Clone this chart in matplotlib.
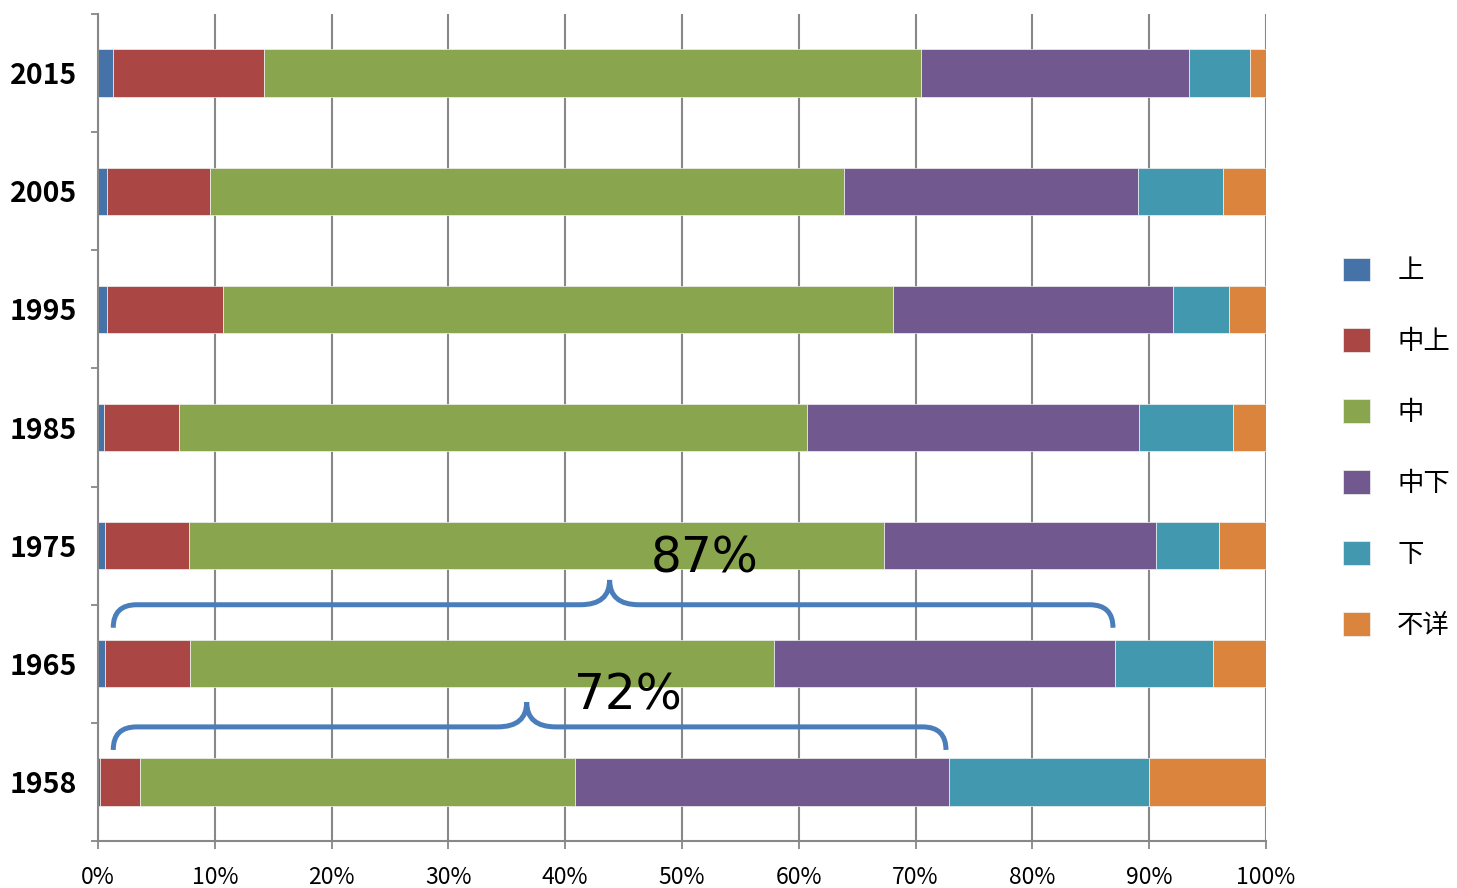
import numpy as np
import matplotlib.pyplot as plt
from matplotlib.path import Path
from matplotlib.patches import PathPatch

plt.rcParams['font.family'] = ['Noto Sans CJK JP', 'DejaVu Sans']

years = ['1958', '1965', '1975', '1985', '1995', '2005', '2015']
labels = ['上', '中上', '中', '中下', '下', '不详']
colors = ['#4572a7', '#aa4643', '#89a54e', '#71588f', '#4198af', '#db843d']

# share (%) per year, in the order of labels
upper = [0.2, 0.6, 0.6, 0.5, 0.8, 0.8, 1.3]
mid_upper = [3.4, 7.3, 7.2, 6.4, 9.9, 8.8, 12.9]
middle = [37.2, 50.0, 59.5, 53.8, 57.4, 54.3, 56.3]
mid_lower = [32.1, 29.2, 23.3, 28.4, 23.9, 25.1, 22.9]
lower = [17.1, 8.4, 5.4, 8.1, 4.8, 7.3, 5.2]
unknown = [10.0, 4.5, 4.0, 2.8, 3.2, 3.7, 1.4]

series = [upper, mid_upper, middle, mid_lower, lower, unknown]

# braces: (left %, right %, tip %, line y, text, text x, text y)
braces = [(1.3, 86.9, 43.8, 1.5, '87%', 51.9, 1.77),
          (1.3, 72.6, 36.7, 0.466, '72%', 45.4, 0.61)]

fig = plt.figure(figsize=(14.57, 8.88), dpi=100)
ax = fig.add_axes([0.0673, 0.0529, 0.8016, 0.9313])

y = np.arange(len(years))
left = np.zeros(len(years))
for vals, lab, c in zip(series, labels, colors):
    vals = np.array(vals)
    ax.barh(y, vals, left=left, height=0.4, color=c, label=lab,
            edgecolor='#f2f2f2', linewidth=0.5, zorder=2)
    left += vals

ax.set_xlim(0, 100)
ax.set_ylim(-0.5, 6.5)

ax.set_xticks(np.arange(0, 101, 10))
ax.set_xticklabels([f'{v}%' for v in range(0, 101, 10)], fontsize=16.5)
ax.set_yticks(np.arange(-0.5, 6.6, 1))
ax.set_yticklabels([])
ax.set_yticks(y, minor=True)
ax.set_yticklabels(years, minor=True, fontsize=20.5, fontweight='bold')
ax.tick_params(axis='y', which='minor', length=0, pad=15)
ax.tick_params(axis='y', which='major', length=5, color='#888888', width=1.3)
ax.tick_params(axis='x', length=6, color='#888888', width=1.3, pad=12)

ax.grid(axis='x', color='#888888', linewidth=1.5, zorder=0)
ax.set_axisbelow(True)
for s in ['top', 'right']:
    ax.spines[s].set_visible(False)
for s in ['left', 'bottom']:
    ax.spines[s].set_color('#888888')
    ax.spines[s].set_linewidth(1.5)

# curly braces
for x0, x1, xm, yl, txt, tx, ty in braces:
    r = 2.0
    rm = 2.5
    ye = yl - 0.195
    yp = yl + 0.21
    verts = [(x0, ye), (x0, yl), (x0 + r, yl),
             (xm - rm, yl), (xm, yl), (xm, yp),
             (xm, yl), (xm + rm, yl),
             (x1 - r, yl), (x1, yl), (x1, ye)]
    codes = [Path.MOVETO, Path.CURVE3, Path.CURVE3,
             Path.LINETO, Path.CURVE3, Path.CURVE3,
             Path.CURVE3, Path.CURVE3,
             Path.LINETO, Path.CURVE3, Path.CURVE3]
    ax.add_patch(PathPatch(Path(verts, codes), fill=False, edgecolor='#4a7ebb',
                           linewidth=3.6, capstyle='butt', zorder=3))
    ax.text(tx, ty, txt, fontsize=35, family='DejaVu Sans',
            ha='center', va='baseline', zorder=4)

ax.legend(loc='center left', bbox_to_anchor=(1.057, 0.475), frameon=False,
          fontsize=19, handlelength=1.0, handleheight=1.0,
          handletextpad=1.05, labelspacing=1.665, borderaxespad=0)

fig.savefig('out.png', dpi=100)
